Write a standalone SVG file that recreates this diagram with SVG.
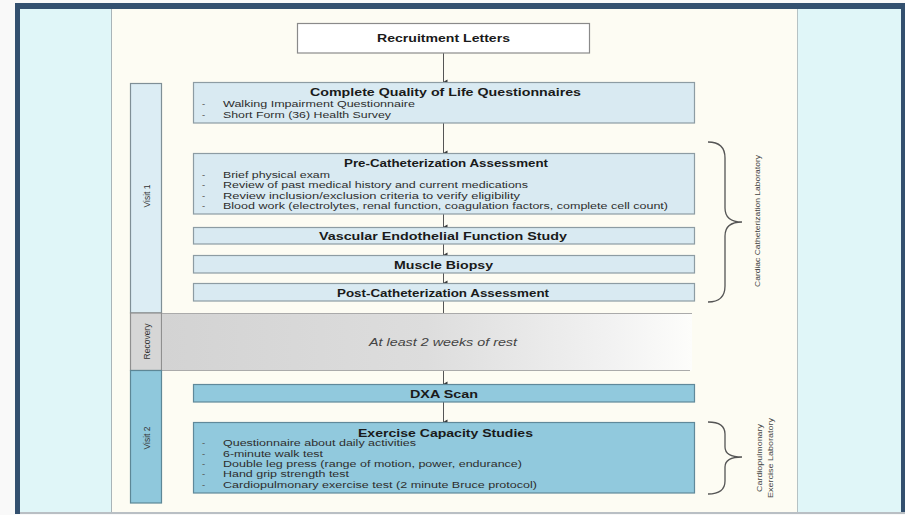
<svg xmlns="http://www.w3.org/2000/svg" width="905" height="515" viewBox="0 0 905 515">
  <defs>
    <marker id="arr" viewBox="0 0 6 6" refX="3" refY="5.5" markerWidth="6" markerHeight="6" orient="auto-start-reverse" markerUnits="userSpaceOnUse">
      <path d="M0.5,1.5 L5.5,1.5 L3,5.8 Z" fill="#333"/>
    </marker>
    <linearGradient id="restGrad" x1="0" y1="0" x2="1" y2="0">
      <stop offset="0" stop-color="#d3d3d3"/>
      <stop offset="0.5" stop-color="#dddddd"/>
      <stop offset="0.85" stop-color="#f2f2f2"/>
      <stop offset="1" stop-color="#fdfdfb"/>
    </linearGradient>
    <style>
      .title { font-family: "Liberation Sans", Arial, sans-serif; font-weight: bold; font-size: 11.5px; fill: #1a1a1a; text-anchor: middle; }
      .item { font-family: "Liberation Sans", Arial, sans-serif; font-size: 9.7px; fill: #2e2e2e; }
      .dash { font-family: "Liberation Sans", Arial, sans-serif; font-size: 9.5px; fill: #555; }
      .side { font-family: "Liberation Sans", Arial, sans-serif; font-size: 8.5px; fill: #333; text-anchor: middle; }
      .lab { font-family: "Liberation Sans", Arial, sans-serif; font-size: 8px; fill: #444; text-anchor: middle; }
      .light { fill: #d9eaf2; stroke: #8d9ca3; stroke-width: 1.2; }
      .dark { fill: #91c9dd; stroke: #60899a; stroke-width: 1.2; }
      .conn { stroke: #555; stroke-width: 1; fill: none; }
      .brace { stroke: #555; stroke-width: 1.3; fill: none; }
    </style>
  </defs>

  <!-- background frame -->
  <rect x="0" y="0" width="905" height="515" fill="#f9f9f9"/>
  <rect x="15" y="3" width="890" height="511" fill="#33506f"/>
  <rect x="20" y="9" width="92" height="503" fill="#e0f6f8"/>
  <rect x="112" y="9" width="686" height="503" fill="#fdfcf3"/>
  <rect x="798" y="9" width="103" height="503" fill="#e0f6f8"/>
  <line x1="111.5" y1="9" x2="111.5" y2="512" stroke="#a9b4b8" stroke-width="1"/>
  <line x1="797.5" y1="9" x2="797.5" y2="512" stroke="#b6c2c4" stroke-width="1"/>
  <rect x="20" y="512" width="885" height="2" fill="#b9bfc4"/>

  <!-- sidebar -->
  <g id="visit1">
    <rect x="130.5" y="83.5" width="31" height="229.5" fill="#dcedf4" stroke="#7f8f96" stroke-width="1.2"/>
    <text class="side" transform="translate(150,196) rotate(-90)">Visit 1</text>
  </g>
  <g id="recovery">
    <rect x="130.5" y="313" width="31" height="57.5" fill="#d6d6d6" stroke="#8f8f8f" stroke-width="1.2"/>
    <rect x="162" y="313.5" width="530" height="57" fill="url(#restGrad)"/>
    <line x1="162" y1="313.5" x2="692" y2="313.5" stroke="#aaaaaa" stroke-width="1"/>
    <line x1="162" y1="370.5" x2="690" y2="370.5" stroke="#aaaaaa" stroke-width="1"/>
    <text class="side" transform="translate(150,341.5) rotate(-90)">Recovery</text>
    <text x="443" y="346" textLength="148" lengthAdjust="spacingAndGlyphs" style="font-family:'Liberation Sans',Arial,sans-serif;font-style:italic;font-size:11.5px;fill:#444;text-anchor:middle">At least 2 weeks of rest</text>
  </g>
  <g id="visit2">
    <rect x="130.5" y="370.5" width="31" height="132.5" fill="#8fc8dc" stroke="#5d8796" stroke-width="1.2"/>
    <text class="side" transform="translate(150,438) rotate(-90)">Visit 2</text>
  </g>

  <!-- connectors -->
  <g id="connectors">
    <line class="conn" x1="443.5" y1="53" x2="443.5" y2="82" marker-end="url(#arr)"/>
    <line class="conn" x1="443.5" y1="123" x2="443.5" y2="153" marker-end="url(#arr)"/>
    <line class="conn" x1="443.5" y1="214" x2="443.5" y2="227" marker-end="url(#arr)"/>
    <line class="conn" x1="443.5" y1="244" x2="443.5" y2="255" marker-end="url(#arr)"/>
    <line class="conn" x1="443.5" y1="273" x2="443.5" y2="283" marker-end="url(#arr)"/>
    <line class="conn" x1="443.5" y1="301" x2="443.5" y2="313"/>
    <line class="conn" x1="443.5" y1="371" x2="443.5" y2="384" marker-end="url(#arr)"/>
    <line class="conn" x1="443.5" y1="402" x2="443.5" y2="422" marker-end="url(#arr)"/>
  </g>

  <g id="recruitment">
    <rect x="297.5" y="23.5" width="292" height="29.5" fill="#ffffff" stroke="#8a8a8a" stroke-width="1.2"/>
    <text class="title" x="443.5" y="42" textLength="133" lengthAdjust="spacingAndGlyphs">Recruitment Letters</text>
  </g>

  <g id="qol">
    <rect class="light" x="193.5" y="82.5" width="501" height="40.5"/>
    <text class="title" x="445.5" y="96" textLength="271" lengthAdjust="spacingAndGlyphs">Complete Quality of Life Questionnaires</text>
    <text class="dash" x="202" y="106.5">-</text>
    <text class="item" x="223" y="106.5" textLength="192" lengthAdjust="spacingAndGlyphs">Walking Impairment Questionnaire</text>
    <text class="dash" x="202" y="117.5">-</text>
    <text class="item" x="223" y="117.5" textLength="168" lengthAdjust="spacingAndGlyphs">Short Form (36) Health Survey</text>
  </g>

  <g id="precath">
    <rect class="light" x="193.5" y="153.5" width="501" height="60.5"/>
    <text class="title" x="446" y="167" textLength="204" lengthAdjust="spacingAndGlyphs">Pre-Catheterization Assessment</text>
    <text class="dash" x="202" y="177.5">-</text>
    <text class="item" x="223" y="177.5" textLength="107" lengthAdjust="spacingAndGlyphs">Brief physical exam</text>
    <text class="dash" x="202" y="188">-</text>
    <text class="item" x="223" y="188" textLength="305" lengthAdjust="spacingAndGlyphs">Review of past medical history and current medications</text>
    <text class="dash" x="202" y="198.5">-</text>
    <text class="item" x="223" y="198.5" textLength="297" lengthAdjust="spacingAndGlyphs">Review inclusion/exclusion criteria to verify eligibility</text>
    <text class="dash" x="202" y="209">-</text>
    <text class="item" x="223" y="209" textLength="445" lengthAdjust="spacingAndGlyphs">Blood work (electrolytes, renal function, coagulation factors, complete cell count)</text>
  </g>

  <g id="vascular">
    <rect class="light" x="193.5" y="227.5" width="501" height="16.5"/>
    <text class="title" x="443" y="240" textLength="248" lengthAdjust="spacingAndGlyphs">Vascular Endothelial Function Study</text>
  </g>

  <g id="biopsy">
    <rect class="light" x="193.5" y="255.5" width="501" height="17.5"/>
    <text class="title" x="443.5" y="268.5" textLength="99" lengthAdjust="spacingAndGlyphs">Muscle Biopsy</text>
  </g>

  <g id="postcath">
    <rect class="light" x="193.5" y="283.5" width="501" height="17.5"/>
    <text class="title" x="443" y="296.5" textLength="212" lengthAdjust="spacingAndGlyphs">Post-Catheterization Assessment</text>
  </g>

  <g id="dxa">
    <rect class="dark" x="193.5" y="384.5" width="501" height="17.5"/>
    <text class="title" x="444" y="397.5" textLength="68" lengthAdjust="spacingAndGlyphs">DXA Scan</text>
  </g>

  <g id="exercise">
    <rect class="dark" x="193.5" y="422.5" width="501" height="70.5"/>
    <text class="title" x="445.5" y="436.5" textLength="175" lengthAdjust="spacingAndGlyphs">Exercise Capacity Studies</text>
    <text class="dash" x="202" y="446">-</text>
    <text class="item" x="223" y="446" textLength="193" lengthAdjust="spacingAndGlyphs">Questionnaire about daily activities</text>
    <text class="dash" x="202" y="456.7">-</text>
    <text class="item" x="223" y="456.7" textLength="100" lengthAdjust="spacingAndGlyphs">6-minute walk test</text>
    <text class="dash" x="202" y="467.2">-</text>
    <text class="item" x="223" y="467.2" textLength="299" lengthAdjust="spacingAndGlyphs">Double leg press (range of motion, power, endurance)</text>
    <text class="dash" x="202" y="477">-</text>
    <text class="item" x="223" y="477" textLength="126" lengthAdjust="spacingAndGlyphs">Hand grip strength test</text>
    <text class="dash" x="202" y="487.5">-</text>
    <text class="item" x="223" y="487.5" textLength="314" lengthAdjust="spacingAndGlyphs">Cardiopulmonary exercise test (2 minute Bruce protocol)</text>
  </g>

  <g id="cathlab">
    <path class="brace" d="M708,142 Q725,142 725,158 L725,208 Q725,222 742,222 Q725,222 725,236 L725,286 Q725,302 708,302"/>
    <text class="lab" transform="translate(760,221) rotate(-90)" textLength="132" lengthAdjust="spacingAndGlyphs">Cardiac Catheterization Laboratory</text>
  </g>

  <g id="exlab">
    <path class="brace" d="M708,422 Q725,422 725,434 L725,447 Q725,457 742,457 Q725,457 725,467 L725,481 Q725,494 708,494"/>
    <text class="lab" transform="translate(762,458) rotate(-90)" textLength="68" lengthAdjust="spacingAndGlyphs">Cardiopulmonary</text>
    <text class="lab" transform="translate(773,458) rotate(-90)" textLength="80" lengthAdjust="spacingAndGlyphs">Exercise Laboratory</text>
  </g>
</svg>
